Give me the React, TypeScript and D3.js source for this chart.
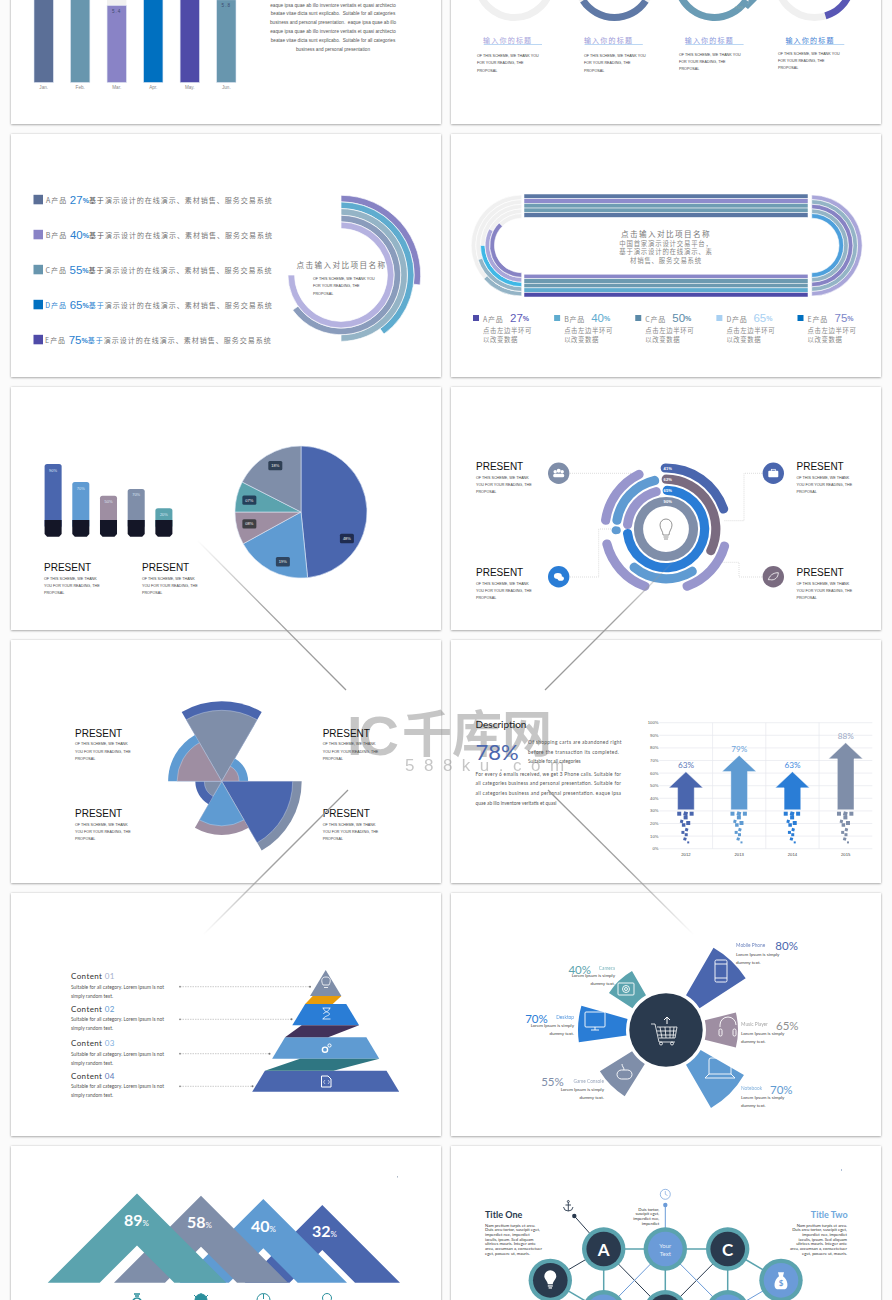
import React from 'react';
import * as d3 from 'd3';

// slide 1: monthly bars (cut off by the page top)
const months = ['Jan', 'Feb', 'Mar', 'Apr', 'May', 'Jun'];
const monthValues = [6.2, 6.0, 5.4, 6.6, 7.0, 5.8];
const monthColors = ['#5b6f97', '#6896ae', '#8983c6', '#0070c0', '#4f4ba8', '#6896ae'];
const monthNotes = ['', '', '5.4', '', '', '5.8'];
const paragraphLines = [
  'eaque ipsa quae ab illo inventore veritatis et quasi architecto',
  'beatae vitae dicta sunt explicabo.  Suitable for all categories',
  'business and personal presentation.  eaque ipsa quae ab illo',
  'eaque ipsa quae ab illo inventore veritatis et quasi architecto',
  'beatae vitae dicta sunt explicabo.  Suitable for all categories',
  'business and personal presentation',
];

// slide 2: cut off donuts, arc spans in percent of the ring
const donutSpans = [[0, 0], [34.4, 65.8], [34, 69], [30, 45.3]];
const donutColors = ['#f0f0f0', '#5f79a6', '#6a9cb5', '#5957b5'];
const donutTitleColors = ['#a6a3dc', '#9c9ad8', '#8c98dc', '#3f7fd4'];

// slide 3 and 4: product shares
const products = ['A', 'B', 'C', 'D', 'E'];
const productShares = [27, 40, 55, 65, 75];
const ringShares = [27, 40, 50, 65, 75];
const productColors = ['#5b6f97', '#8983c6', '#6896ae', '#0070c0', '#4f4ba8'];
const ringColors = ['#8783c4', '#5faccf', '#94b4c6', '#8a9cbc', '#b5b2e0'];
const trackTopColors = ['#5b77a3', '#8f8ccc', '#6f9db3', '#6f9db3', '#5b77a3'];
const trackBottomColors = ['#8a87c8', '#6c9ab0', '#6c9ab0', '#5faccf', '#4f4ba8'];
const halfRightColors = ['#a9a6d9', '#94b4c6', '#8783c4', '#94b4c6', '#4ea0dc'];
const halfLeftColors = ['#94b4c6', '#94b4c6', '#3fb8e6', '#a9a6d9', '#8783c4'];
const compareShares = [27, 40, 50, 65, 75];
const compareColors = ['#4f4ba8', '#5faccf', '#5b8aa8', '#a8d0f2', '#0070c0'];
const compareValueColors = ['#5d5bb8', '#5faccf', '#5b8aa8', '#a8d0f2', '#7b86c8'];

// slide 5: small bars and pie
const palette = ['#4a66ae', '#5f9bd2', '#9e8ea2', '#5ba3ae', '#7f8ea9'];
const barValues = [90, 61, 39, 50, 19];
const barLabels = ['90%', '70%', '50%', '70%', '20%'];
const barColors = ['#4a66ae', '#5f9bd2', '#9e8ea2', '#7f8ea9', '#5ba3ae'];
const pieValues = [48.4, 18.6, 8, 7.5, 17.5];
const pieLabels = ['48%', '19%', '08%', '07%', '18%'];
const pieLabelAngles = [120, 200, 257, 283, 331];

// slide 6: rounded rings, spans in degrees
const hubArcs: [number, number, number, string][] = [
  [0, 0, 360, '#7f8ea9'],
  [1, 270, 352, '#9896cd'],
  [1, -5, 270, '#2a7dd6'],
  [2, -5, 121, '#7a6b80'],
  [2, 275, 352, '#5f9bd2'],
  [2, 264, 273, '#5f9bd2'],
  [2, 143, 225, '#5f9bd2'],
  [3, -5, 75, '#4a66ae'],
  [3, 274, 338, '#9896cd'],
  [3, 196, 260, '#9896cd'],
  [3, 102, 164, '#9896cd'],
];
const hubLabels = ['90%', '65%', '62%', '41%'];

// slide 7: polar wedges
const polarValues = [100, 33, 100, 67, 33, 67];
const polarOuter = ['#4a66ae', '#5f9bd2', '#7f8ea9', '#9e8ea2', '#4a66ae', '#5f9bd2'];
const polarInner = ['#7f8ea9', '#9e8ea2', '#4a66ae', '#5f9bd2', '#7f8ea9', '#9e8ea2'];

// slide 8: arrows
const years = ['2012', '2013', '2014', '2015'];
const arrowTips = [61, 74, 61, 84];
const arrowLabels = ['63%', '79%', '63%', '88%'];
const arrowColors = ['#4a66ae', '#5f9bd2', '#2a7dd6', '#7f8ea9'];
const arrowLabelColors = ['#5d78b8', '#6ea5da', '#3f8ade', '#9aa8c5'];
const percentTicks = [0, 10, 20, 30, 40, 50, 60, 70, 80, 90, 100];

// slide 9: pyramid
const pyramidEdges = [0, 26, 34, 55.3, 67.3, 88.7, 100.7, 121.7];
const pyramidColors = ['#7f8ea9', '#2a7dd6', '#5f9bd2', '#4a66ae'];
const pyramidLinks = ['#e89c0a', '#42325a', '#2f7682'];
const contentNumbers = ['01', '02', '03', '04'];
const contentNumberColors = ['#a4b0cc', '#5f9bd2', '#7fb0e0', '#5d78b8'];

// slide 10: wedges around the cart
const wedgeNames = ['Mobile Phone', 'Music Player', 'Notebook', 'Game Console', 'Desktop', 'Camera'];
const wedgeShares = ['80%', '65%', '70%', '55%', '70%', '40%'];
const wedgeStarts = [30, 76, 120, 212, 262, 303];
const wedgeEnds = [57, 104, 150, 238, 286, 330];
const wedgeReach = [95, 72, 90, 78, 88, 68];
const wedgeColors = ['#4a66ae', '#9e8ea2', '#5f9bd2', '#7f8ea9', '#2a7dd6', '#5ba3ae'];
const wedgeValueColors = ['#4a66ae', '#8f8f8f', '#5f9bd2', '#7f8ea9', '#2a7dd6', '#5ba3ae'];

// slide 11: overlapping chevrons
const peakLabels = ['32', '40', '58', '89'];
const peakHeights = [77.7, 83.7, 87, 89.3];
const peakWidths = [45, 49.3, 51, 52];
const peakColors = ['#4a66ae', '#5f9bd2', '#7f8ea9', '#5ba3ae'];

// slide 12: network
const netNodes: [number, number, string, string][] = [
  [1, 0, 'dark', 'A'],
  [2, 0, 'blue', ''],
  [3, 0, 'dark', 'C'],
  [0, 1, 'dark', ''],
  [4, 1, 'blue', ''],
  [1, 2, 'blue', ''],
  [2, 2, 'dark', ''],
  [3, 2, 'blue', ''],
];
const netLinks: [number, number, string][] = [
  [0, 1, 'teal'], [1, 2, 'teal'], [0, 5, 'teal'], [1, 6, 'teal'], [2, 7, 'teal'],
  [3, 5, 'teal'], [2, 4, 'teal'], [3, 0, 'dark'], [0, 6, 'dark'], [2, 6, 'dark'],
  [4, 7, 'blue'], [1, 5, 'blue'], [1, 7, 'blue'],
];
const titleOneLines = ['Nam pretium turpis et arcu.', 'Duis arcu tortor, suscipit eget,', 'imperdiet nec, imperdiet', 'iaculis, ipsum. Sed aliquam', 'ultrices mauris. Integer ante', 'arcu, accumsan a, consectetuer', 'eget, posuere ut, mauris.'];

const SCHEME_WIDE = ['OF THIS SCHEME, WE THANK YOU', 'FOR YOUR READING, THE', 'PROPOSAL'];
const SCHEME_NARROW = ['OF THIS SCHEME, WE THANK', 'YOU FOR YOUR READING, THE', 'PROPOSAL'];
const LOREM = 'Suitable for all category. Lorem ipsum is not';
const SANS = '"Liberation Sans", Arial, sans-serif';
const CJK = '"Noto Sans CJK SC", sans-serif';
const ROUND = 'Lato, sans-serif';
const DARK = '#2a3a4e';

const rad = (d: number) => (d * Math.PI) / 180;
const arcPath = (r0: number, r1: number, a0: number, a1: number, corner = 0) =>
  d3.arc().cornerRadius(corner)({ innerRadius: r0, outerRadius: r1, startAngle: rad(a0), endAngle: rad(a1) } as any) as string;
const poly = (pts: [number, number][]) => d3.line()(pts) + 'Z';

function Lines({ x, y, step, lines, size = 3.7, fill = '#444', anchor = 'start', family = SANS, spacing = 0 }: any) {
  return (
    <g fontSize={size} fill={fill} textAnchor={anchor} fontFamily={family} letterSpacing={spacing}>
      {lines.map((l: string, i: number) => (
        <text key={i} x={x} y={y + i * step} dominantBaseline="central" xmlSpace="preserve">{l}</text>
      ))}
    </g>
  );
}

const Present = ({ x, y, lines = SCHEME_NARROW, dy = 11 }: any) => (
  <g>
    <text x={x} y={y} fontSize={10} fontFamily={SANS} fill="#111" dominantBaseline="central">PRESENT</text>
    <Lines x={x} y={y + dy} step={7.2} lines={lines} />
  </g>
);

function TopSlides() {
  const y = d3.scaleLinear().domain([0, 5.4]).range([82.5, 5.5]);
  const x = d3.scaleBand().domain(months).range([25.6, 244.4]).paddingInner(0.47).paddingOuter(0.23);
  const donutX = d3.scalePoint().domain(['0', '1', '2', '3']).range([514.5, 814.5]);
  const donutY = -20;
  const textX = [477, 584, 679, 778];
  const textY = [56, 56, 54.5, 53.5];
  return (
    <g>
      {months.map((m, i) => (
        <g key={m}>
          <rect x={x(m)} y={y(8)} width={x.bandwidth()} height={y(0) - y(8)} fill="#f0f0f0" />
          <rect x={x(m)} y={y(monthValues[i])} width={x.bandwidth()} height={y(0) - y(monthValues[i])} fill={monthColors[i]} stroke="#dfe6f3" strokeWidth={0.6} />
          <text x={x(m)! + x.bandwidth() / 2} y={y(0) + 6} fontSize={4.6} fill="#888" textAnchor="middle" fontFamily={SANS}>{m}.</text>
          {monthNotes[i] && (
            <text x={x(m)! + x.bandwidth() / 2} y={y(monthValues[i]) + 7.5} fontSize={4.6} fill="#3d4a70" textAnchor="middle" fontFamily={SANS} letterSpacing={1}>{monthNotes[i]}</text>
          )}
        </g>
      ))}
      <Lines x={333} y={5} step={8.85} lines={paragraphLines} size={4.7} anchor="middle" fill="#555" />

      {donutSpans.map(([a, b], i) => {
        const cx = donutX(String(i))!;
        const titleX = [483.7, 584.5, 685.3, 786][i];
        return (
          <g key={i}>
            <g transform={`translate(${cx},${donutY})`}>
              <path d={arcPath(34, 41, 0, 360)} fill="#f0f0f0" />
              {b > a && <path d={arcPath(34, 41, a * 3.6, b * 3.6)} fill={donutColors[i]} />}
            </g>
            <text x={titleX + 24} y={40} fontSize={7} letterSpacing={1.2} fontFamily={CJK} fill={donutTitleColors[i]} textAnchor="middle" dominantBaseline="central">输入你的标题</text>
            <line x1={titleX} x2={titleX + 58.3} y1={44.5} y2={44.5} stroke="#9ec5ee" strokeWidth={0.7} />
            <Lines x={textX[i]} y={textY[i]} step={7.3} lines={SCHEME_WIDE} />
          </g>
        );
      })}
      <path d={poly([[741, 4], [748, 4], [749, -3], [757, 0], [748, 9]])} fill="#6a9cb5" />
      <text x={739} y={7} fontSize={4.2} fill="#8aa" textAnchor="middle" dominantBaseline="central" fontFamily={SANS}>75%</text>
    </g>
  );
}

function ProductSlide() {
  const rowY = d3.scalePoint().domain(products).range([199.5, 339.5]);
  const ring = d3.scaleBand().domain(products).range([79.7, 46.4]);
  const angle = d3.scaleLinear().domain([0, 100]).range([0, 360]);
  return (
    <g>
      {products.map((p, i) => {
        const ry = rowY(p)!;
        const headBlue = p === 'D' || p === 'E';
        return (
          <g key={p}>
            <rect x={33.5} y={ry - 4.7} width={9.5} height={9.5} fill={productColors[i]} />
            <text x={46 - i * 0.25} y={ry + 0.7} fontSize={7} letterSpacing={1} fontFamily={CJK} fill="#777" dominantBaseline="central">
              <tspan fill={p === 'D' ? '#2a7fd0' : '#777'}>{p}</tspan>
              <tspan fill={p === 'D' ? '#2a7fd0' : '#777'}>产品 </tspan>
              <tspan fontSize={11.5} fontFamily={SANS} letterSpacing={0} fill="#2a7fd0">{productShares[i]}</tspan>
              <tspan fontFamily={SANS} fontWeight="bold" fill="#2a7fd0" letterSpacing={0}>%</tspan>
              <tspan fill={headBlue ? '#2a7fd0' : '#555'}>基于</tspan>
              <tspan>演示设计的在线演示、素材销售、服务交易系统</tspan>
            </text>
            <g transform="translate(341,275)">
              <path d={arcPath(ring(p)!, ring(p)! + ring.bandwidth(), 0, angle(ringShares[i]))} fill={ringColors[i]} stroke="#fff" strokeWidth={0.7} />
            </g>
          </g>
        );
      })}
      <text x={341.5} y={264} fontSize={7.6} letterSpacing={1.4} fontFamily={CJK} fill="#777" textAnchor="middle" dominantBaseline="central">点击输入对比项目名称</text>
      <Lines x={313} y={279} step={7.3} lines={SCHEME_WIDE} />
    </g>
  );
}

function CompareSlide() {
  const ring = d3.scaleBand().domain(products).range([50.5, 27.3]);
  const rowTop = d3.scaleBand().domain(products).range([194, 217.4]);
  const rowBottom = d3.scaleBand().domain(products).range([274.2, 297]);
  const legendX = d3.scalePoint().domain(products).range([473, 797.5]);
  const cy = 245.5;
  return (
    <g>
      {products.map((p, i) => (
        <g key={p}>
          <rect x={524} y={rowTop(p)} width={284} height={rowTop.bandwidth()} fill={trackTopColors[i]} stroke="#fff" strokeWidth={0.5} />
          <rect x={524} y={rowBottom(p)} width={284} height={rowBottom.bandwidth()} fill={trackBottomColors[i]} stroke="#fff" strokeWidth={0.5} />
          <g transform={`translate(811.7,${cy})`}>
            <path d={arcPath(ring(p)!, ring(p)! + ring.bandwidth(), 0, 180)} fill={halfRightColors[i]} stroke="#fff" strokeWidth={0.6} />
          </g>
          <g transform={`translate(521.7,${cy})`}>
            <path d={arcPath(ring(p)!, ring(p)! + ring.bandwidth(), 180, 360)} fill="#f0f0f0" stroke="#fff" strokeWidth={0.6} />
            <path d={arcPath(ring(p)!, ring(p)! + ring.bandwidth(), 180, 180 + compareShares[i] * 1.8)} fill={halfLeftColors[i]} stroke="#fff" strokeWidth={0.6} />
          </g>
          <rect x={legendX(p)} y={315} width={6} height={6} fill={compareColors[i]} />
          <text x={legendX(p)! + 10} y={318.5} fontSize={7} fontFamily={CJK} fill="#888" letterSpacing={0.8} dominantBaseline="central">{p}产品</text>
          <text x={legendX(p)! + 37} y={318} fontSize={11.5} fontFamily={SANS} fill={compareValueColors[i]} dominantBaseline="central">
            {compareShares[i]}<tspan fontSize={7} fontWeight="bold">%</tspan>
          </text>
          <Lines x={legendX(p)! + 10} y={330.5} step={8.7} size={6.4} spacing={0.6} family={CJK} fill="#888" lines={['点击左边半环可', '以改变数据']} />
        </g>
      ))}
      <text x={666} y={233} fontSize={7.6} letterSpacing={1.4} fontFamily={CJK} fill="#777" textAnchor="middle" dominantBaseline="central">点击输入对比项目名称</text>
      <Lines x={666} y={243} step={8.6} size={6.4} spacing={0.8} family={CJK} fill="#888" anchor="middle" lines={['中国首家演示设计交易平台，', '基于演示设计的在线演示、素', '材销售、服务交易系统']} />
    </g>
  );
}

function BarPieSlide() {
  const x = d3.scaleBand().domain(barLabels.map((_, i) => String(i))).range([37.4, 179.6]).paddingInner(0.385).paddingOuter(0.26);
  const y = d3.scaleLinear().domain([0, 90]).range([520, 464]);
  const cx = 301, cy = 512, r = 66;
  const arcs = d3.pie<number>().sort(null)(pieValues);
  return (
    <g>
      {barValues.map((v, i) => {
        const k = String(i);
        return (
          <g key={k}>
            <rect x={x(k)} y={y(v)} width={x.bandwidth()} height={y(0) - y(v) + 8} rx={2.5} fill={barColors[i]} />
            <path d={poly([[x(k)!, 520], [x(k)! + x.bandwidth(), 520], [x(k)! + x.bandwidth(), 534], [x(k)! + x.bandwidth() - 2.5, 536.7], [x(k)! + 2.5, 536.7], [x(k)!, 534]])} fill="#141627" />
            <text x={x(k)! + x.bandwidth() / 2} y={y(v) + 6} fontSize={4} fill="#dce6f5" textAnchor="middle" dominantBaseline="central" fontFamily={SANS}>{barLabels[i]}</text>
          </g>
        );
      })}
      <Present x={44} y={567} dy={11.8} />
      <Present x={142} y={567} dy={11.8} />
      <g transform={`translate(${cx},${cy})`}>
        {arcs.map((a, i) => (
          <path key={i} d={d3.arc()({ ...a, innerRadius: 0, outerRadius: r } as any) as string} fill={palette[i]} stroke="#dbe6f5" strokeWidth={0.6} />
        ))}
        {pieLabels.map((l, i) => {
          const px = Math.sin(rad(pieLabelAngles[i])) * 53;
          const py = -Math.cos(rad(pieLabelAngles[i])) * 53;
          return (
            <g key={l} transform={`translate(${px},${py})`}>
              <rect x={-7} y={-4.7} width={14} height={9.4} rx={1.5} fill={['#1f2c50', '#2f4560', '#3f3f44', '#24405a', '#2f4055'][i]} />
              <text fontSize={4} fill="#f2f2f2" textAnchor="middle" dominantBaseline="central" fontFamily={SANS}>{l}</text>
            </g>
          );
        })}
      </g>
    </g>
  );
}

function HubSlide() {
  const r = d3.scalePoint().domain(['0', '1', '2', '3']).range([27.5, 61]);
  const cx = 666, cy = 529;
  const nodes: [number, number, string][] = [[558.7, 473.3, '#7f8ea9'], [558.7, 576.7, '#2a7dd6'], [773.3, 473.3, '#4a66ae'], [773.3, 576.7, '#7a6b80']];
  const leaders: [number, number][][] = [
    [[570, 473.3], [632, 473.3]],
    [[570, 577], [598.7, 577], [598.7, 529], [616, 529]],
    [[762, 473.3], [744, 473.3], [744, 520.7], [724, 520.7]],
    [[762, 577], [739, 577], [739, 562.3], [712.7, 562.3]],
  ];
  return (
    <g>
      {leaders.map((l, i) => (
        <path key={i} d={d3.line()(l)!} fill="none" stroke="#bbb" strokeWidth={0.5} strokeDasharray="1 1" />
      ))}
      <g transform={`translate(${cx},${cy})`}>
        {hubArcs.map(([lane, a0, a1, c], i) => {
          const rc = r(String(lane))!;
          const full = a1 - a0 >= 360;
          return <path key={i} d={arcPath(rc - 4.6, rc + 4.6, a0, a1, full ? 0 : 4.5)} fill={c} />;
        })}
        {hubLabels.map((l, i) => (
          <text key={l} x={1.7} y={-r(String(i))!} fontSize={4.1} fill="#fff" fontWeight="bold" textAnchor="middle" dominantBaseline="central" fontFamily={SANS}>{l}</text>
        ))}
        <g fill="none" stroke="#666" strokeWidth={0.7}>
          <path d="M-3,6 C-3,2 -6,0 -6,-4 A6,6 0 1 1 6,-4 C6,0 3,2 3,6 Z" />
          <path d="M-2.5,8 H2.5 M-2,10 H2" />
        </g>
      </g>
      {nodes.map(([x, y, c], i) => (
        <g key={i} transform={`translate(${x},${y})`}>
          <circle r={10.7} fill={c} />
          {i === 0 && <g fill="#fff"><circle cx={-3.5} cy={-1.5} r={1.7} /><circle cx={3.5} cy={-1.5} r={1.7} /><circle cy={-2.5} r={2} /><rect x={-5.5} y={0.5} width={11} height={3.5} rx={1.5} /></g>}
          {i === 1 && <g fill="#fff"><ellipse cx={-0.8} cy={-0.8} rx={4} ry={3} /><ellipse cx={2} cy={1.8} rx={3.2} ry={2.3} /></g>}
          {i === 2 && <g fill="#fff"><rect x={-5} y={-2.5} width={10} height={6.5} rx={1} /><rect x={-2} y={-4} width={4} height={2} fill="none" stroke="#fff" strokeWidth={0.7} /></g>}
          {i === 3 && <path d="M-5,3 C-3,-3 2,-4 5,-4 C5,1 1,4 -3,3 Z" fill="none" stroke="#fff" strokeWidth={0.8} />}
        </g>
      ))}
      <Present x={476} y={466.5} dy={11.5} />
      <Present x={476} y={572} dy={11.5} />
      <Present x={796.5} y={466.5} dy={11.5} />
      <Present x={796.5} y={572} dy={11.5} />
    </g>
  );
}

function PolarSlide() {
  const r = d3.scaleLinear().domain([0, 100]).range([0, 80]);
  return (
    <g>
      <g transform="translate(221.7,781.3)">
        {polarValues.map((v, i) => (
          <g key={i}>
            <path d={arcPath(0, r(v), -30 + 60 * i, 30 + 60 * i)} fill={polarOuter[i]} />
            <path d={arcPath(0, r(v) - 9, -30 + 60 * i, 30 + 60 * i)} fill={polarInner[i]} stroke="#d5dff0" strokeWidth={0.4} />
          </g>
        ))}
      </g>
      <Present x={75} y={733.3} />
      <Present x={322.7} y={733.3} />
      <Present x={75} y={813.7} />
      <Present x={322.7} y={813.7} />
    </g>
  );
}

function ArrowSlide() {
  const y = d3.scaleLinear().domain([0, 100]).range([848.7, 722.7]);
  const x = d3.scaleBand().domain(years).range([659.3, 872.3]);
  const bits: [number, number, number][] = [[-6.7, 4, 4], [-0.3, 4, 4], [5.7, 4, 4], [-0.3, 7.7, 4], [-4.3, 11.7, 3], [2.3, 13.3, 4], [-2.3, 15.3, 3.5], [0.7, 20, 3], [-3, 22.7, 3], [0.3, 25, 3], [-1, 29.3, 3], [2.3, 32.7, 2]];
  const stemBottom = 809.7;
  const wrapped = ['Of shopping carts are abandoned right', 'before the transaction its completed.'];
  const body = ['For every 6 emails received, we get 3 Phone calls.  Suitable for', 'all categories business and personal presentation.  Suitable for', 'all categories business and personal presentation.  eaque ipsa'];
  return (
    <g>
      <text x={475.5} y={723.7} fontSize={10} fontFamily={ROUND} fill="#222" dominantBaseline="central">Description</text>
      <text x={475.5} y={759.5} fontSize={22} fontFamily={ROUND} fill="#4a66ae">78%</text>
      {wrapped.map((t, i) => (
        <text key={t} x={528} y={742 + i * 9.5} fontSize={4.8} fontFamily={ROUND} fill="#555" textLength={i === 0 ? 93.5 : 91} dominantBaseline="central">{t}</text>
      ))}
      <text x={528} y={761} fontSize={4.8} fontFamily={ROUND} fill="#555" dominantBaseline="central">Suitable for all categories</text>
      {body.map((t, i) => (
        <text key={t} x={475.5} y={773.7 + i * 9.6} fontSize={4.8} fontFamily={ROUND} fill="#555" textLength={145.5} dominantBaseline="central">{t}</text>
      ))}
      <text x={475.5} y={802.7} fontSize={4.8} fontFamily={ROUND} fill="#555" dominantBaseline="central">quae ab illo inventore veritatis et quasi</text>

      {percentTicks.map(t => (
        <g key={t}>
          <line x1={659.3} x2={872.3} y1={y(t)} y2={y(t)} stroke="#e6e8ee" strokeWidth={0.7} />
          <text x={658.5} y={y(t)} fontSize={4.2} fill="#555" textAnchor="end" dominantBaseline="central" fontFamily={SANS}>{t}%</text>
        </g>
      ))}
      {years.slice(1).map(yr => (
        <line key={yr} x1={x(yr)} x2={x(yr)} y1={y(100)} y2={y(0)} stroke="#e6e8ee" strokeWidth={0.7} />
      ))}
      {years.map((yr, i) => {
        const cx = x(yr)! + x.bandwidth() / 2;
        const tip = y(arrowTips[i]);
        return (
          <g key={yr}>
            <path
              d={poly([[cx, tip], [cx + 17, tip + 16], [cx + 8.3, tip + 16], [cx + 8.3, stemBottom], [cx - 8.3, stemBottom], [cx - 8.3, tip + 16], [cx - 17, tip + 16]])}
              fill={arrowColors[i]} stroke="#fff" strokeWidth={0.4}
            />
            {bits.map(([dx, dy, s], j) => (
              <rect key={j} x={cx + dx - s / 2} y={stemBottom + dy - s / 2} width={s} height={s} fill={arrowColors[i]} transform={`rotate(${j % 3 === 1 ? 15 : 0},${cx + dx},${stemBottom + dy})`} />
            ))}
            <text x={cx} y={tip - 6.5} fontSize={8.2} fontFamily={ROUND} fill={arrowLabelColors[i]} textAnchor="middle" dominantBaseline="central">{arrowLabels[i]}</text>
            <text x={cx} y={854} fontSize={4.2} fill="#444" textAnchor="middle" dominantBaseline="central" fontFamily={SANS}>{yr}</text>
          </g>
        );
      })}
    </g>
  );
}

function PyramidSlide() {
  const half = d3.scaleLinear().domain([0, 121.7]).range([0, 73.5]);
  const cx = 325.7, top = 970;
  const band = (a: number, b: number): [number, number][] => [[cx - half(a), top + a], [cx + half(a), top + a], [cx + half(b), top + b], [cx - half(b), top + b]];
  const e = pyramidEdges;
  const links: [number, number, number][] = [
    [-13, 16.3, 7],
    [-24, 24.8, 2.5],
    [-25.7, 54.7, 7.7],
  ];
  const targets = [310, 291.5, 269.5, 252.5];
  const rowY = [986.7, 1019.3, 1053.7, 1086.3];
  return (
    <g>
      {pyramidColors.map((c, i) => (
        <path key={c} d={poly(band(e[i === 0 ? 0 : i * 2], e[i * 2 + 1]))} fill={c} />
      ))}
      {links.map(([tl, , bl], i) => {
        const a = e[i * 2 + 1], b = e[i * 2 + 2];
        return <path key={i} d={poly([[cx + tl, top + a], [cx + half(a), top + a], [cx + bl, top + b], [cx - half(b), top + b]])} fill={pyramidLinks[i]} />;
      })}
      <g fill="none" stroke="#fff" strokeWidth={0.8}>
        <path d="M323,985 C321,981 321,977 326,977 C331,977 331,981 329,985 Z M324,987.5 H328" />
        <path d="M322.5,1008 H330.5 M322.5,1019 H330.5 M323.5,1008 C323.5,1012 329.5,1012 329.5,1014 C329.5,1016 323.5,1016 323.5,1019 M329.5,1008 C329.5,1012 323.5,1012 323.5,1014" />
        <circle cx={325} cy={1049.7} r={2.6} strokeWidth={1.4} />
        <circle cx={329.5} cy={1045.5} r={1.6} strokeWidth={1} />
        <path d="M321.5,1076 H328 L331,1079 V1087 H321.5 Z" strokeWidth={1} />
        <path d="M325,1080 L323.5,1082 L325,1084 M328,1080 L329.5,1082 L328,1084" strokeWidth={0.6} />
      </g>
      {contentNumbers.map((n, i) => (
        <g key={n}>
          <text x={71} y={[976, 1008.7, 1042.7, 1075.7][i]} fontSize={8} fontFamily={ROUND} letterSpacing={0.4} fill="#333" dominantBaseline="central">
            Content <tspan fill={contentNumberColors[i]}>{n}</tspan>
          </text>
          <Lines x={71} y={rowY[i]} step={8.8} size={4.9} family={ROUND} fill="#555" lines={[LOREM, 'simply random text.']} />
          <line x1={180} x2={targets[i]} y1={rowY[i]} y2={rowY[i]} stroke="#999" strokeWidth={0.5} strokeDasharray="1.5 1" />
          <circle cx={180} cy={rowY[i]} r={0.9} fill="#888" />
          <circle cx={targets[i]} cy={rowY[i]} r={1} fill="#777" />
        </g>
      ))}
    </g>
  );
}

function CartSlide() {
  const anchors = [
    { x: 736, nameY: 945, pctX: 775.3, pctY: 950, textY: 954.3, end: false },
    { x: 741, nameY: 1024, pctX: 776, pctY: 1030, textY: 1033, end: false },
    { x: 741, nameY: 1088, pctX: 770, pctY: 1094, textY: 1097, end: false },
    { x: 604, nameY: 1081, pctX: 563.7, pctY: 1086, textY: 1089, end: true },
    { x: 574, nameY: 1017, pctX: 547.7, pctY: 1023, textY: 1025.5, end: true },
    { x: 615, nameY: 968, pctX: 591, pctY: 974, textY: 975, end: true },
  ];
  const cx = 666, cy = 1030;
  return (
    <g>
      <g transform={`translate(${cx},${cy})`}>
        {wedgeNames.map((n, i) => (
          <path key={n} d={arcPath(40, wedgeReach[i], wedgeStarts[i], wedgeEnds[i])} fill={wedgeColors[i]} />
        ))}
        <circle r={36.7} fill={DARK} />
        <g fill="none" stroke="#fff" strokeWidth={0.8}>
          <path d="M-15,-6 H-11 L-7,12 H9 M-9,-3 H11 L9,8 H-7 M-6,-3 L-4,8 M-1,-3 L0,8 M4,-3 L4,8 M8,-3 L7,8 M-9,1 H10 M-8,5 H9" />
          <circle cx={-5} cy={13.5} r={1.5} />
          <circle cx={6} cy={13.5} r={1.5} />
          <path d="M1,-6 V-13 M-2,-10 L1,-13 L4,-10" strokeWidth={1} />
        </g>
        <g fill="none" stroke="#fff" strokeWidth={0.9}>
          <rect x={49} y={-70} width={12} height={22} rx={1.5} />
          <path d="M49,-66 H61 M49,-52 H61" />
          <path d="M55,-5 V-3 M55,-5 A8,8 0 0 1 71,-5" transform="translate(-1,0)" />
          <rect x={53} y={-1} width={3} height={7} rx={1.4} />
          <rect x={67} y={-1} width={3} height={7} rx={1.4} />
          <path d="M43,44 V30 Q43,28 45,28 H63 Q65,28 65,30 V44 M39,48 H69 L65,44 H43 Z" />
          <rect x={-49} y={40} width={15} height={9} rx={4.5} />
          <path d="M-42,40 C-42,37 -44,37 -44,34" />
          <rect x={-81} y={-18} width={20} height={15} rx={1} />
          <path d="M-75,0 H-67 M-71,-3 V0" />
          <rect x={-48} y={-47} width={16} height={12} rx={1} />
          <circle cx={-40} cy={-41} r={3.5} />
          <circle cx={-40} cy={-41} r={1.5} />
        </g>
      </g>
      {wedgeNames.map((n, i) => {
        const a = anchors[i];
        const anchor = a.end ? 'end' : 'start';
        return (
          <g key={n} fontFamily={ROUND} textAnchor={anchor}>
            <text x={a.x} y={a.nameY} fontSize={4.8} fill={wedgeValueColors[i]} opacity={0.8} dominantBaseline="central">{n}</text>
            <text x={a.pctX} y={a.pctY} fontSize={11.5} fill={wedgeValueColors[i]}>{wedgeShares[i]}</text>
            <Lines x={a.x} y={a.textY} step={8} size={4.5} fill="#444" family={ROUND} anchor={anchor} lines={['Lorem Ipsum is simply', 'dummy text.']} />
          </g>
        );
      })}
    </g>
  );
}

function PeakSlide() {
  const baseY = 1282.7;
  const peakX = [322.3, 263.3, 201, 137];
  const labelX = [312, 251, 187, 124];
  const labelY = [1237.3, 1231.7, 1228.3, 1226];
  return (
    <g>
      {peakHeights.map((h, i) => {
        const px = peakX[i], w = peakWidths[i];
        return (
          <path key={i} fill={peakColors[i]} d={poly([[px - h, baseY], [px, baseY - h], [px + h, baseY], [px + h - w, baseY], [px, baseY - h + w], [px - h + w, baseY]])} />
        );
      })}
      {peakLabels.map((l, i) => (
        <text key={l} x={labelX[i]} y={labelY[i]} fontFamily={ROUND} fontWeight="bold" fontSize={16} fill="#fff">
          {l}<tspan fontSize={8} fontWeight="normal">%</tspan>
        </text>
      ))}
      <g fill="none" stroke="#2a8f9c" strokeWidth={1}>
        <path d="M134,1294 H140 M135,1296 H139 M133,1300 Q137,1296 141,1300" strokeWidth={1.6} />
        <path d="M195,1300 A6,6 0 0 1 207,1300 Z M194,1295 L196,1297 M208,1295 L206,1297 M201,1293 V1295" fill="#2a8f9c" />
        <circle cx={263.5} cy={1300} r={6.5} />
        <path d="M263.5,1294 V1299" />
        <circle cx={327} cy={1298} r={4.5} />
      </g>
      <rect x={397} y={1176} width={0.7} height={1.6} fill="#8a9cb0" />
    </g>
  );
}

function NetworkSlide() {
  const col = d3.scaleOrdinal<number, number>().domain([0, 1, 2, 3, 4]).range([550.3, 603.7, 665.3, 727.7, 781]);
  const row = d3.scalePoint<number>().domain([0, 1, 2]).range([1249, 1311.7]);
  const tones: any = { teal: '#5ba3ae', dark: DARK, blue: '#6b9bd8' };
  const A = netNodes[0], Y = netNodes[1];
  return (
    <g>
      {netLinks.map(([a, b, t], i) => (
        <line key={i} x1={col(netNodes[a][0])} y1={row(netNodes[a][1])} x2={col(netNodes[b][0])} y2={row(netNodes[b][1])} stroke={tones[t]} strokeWidth={t === 'teal' ? 1.5 : 1} />
      ))}
      <line x1={col(A[0])} y1={row(A[1])} x2={574.3} y2={1216} stroke={DARK} strokeWidth={1} />
      <circle cx={574.3} cy={1216} r={2.2} fill={DARK} />
      <line x1={col(Y[0])} y1={row(Y[1])} x2={665.3} y2={1205} stroke="#6b9bd8" strokeWidth={1} />
      <circle cx={665.3} cy={1205} r={2.2} fill="#6b9bd8" />
      <circle cx={665.3} cy={1194.3} r={5} fill="none" stroke="#6b9bd8" strokeWidth={0.7} />
      <path d="M665.3,1191 V1194.3 L667.5,1195.5" fill="none" stroke="#6b9bd8" strokeWidth={0.6} />
      <g fill="none" stroke={DARK} strokeWidth={0.9}>
        <circle cx={568.3} cy={1201.5} r={1} />
        <path d="M568.3,1202.5 V1211 M565.5,1205 H571 M563.5,1207 Q564,1211 568.3,1211 Q572.6,1211 573,1207" />
      </g>
      {netNodes.map(([c, r, tone, label], i) => (
        <g key={i} transform={`translate(${col(c)},${row(r)})`}>
          <circle r={21.7} fill="#5ba3ae" />
          <circle r={17.3} fill={tone === 'dark' ? DARK : '#6b9bd8'} />
          {label && <text fontSize={17} fontWeight="bold" fontFamily={ROUND} fill="#fff" textAnchor="middle" dominantBaseline="central">{label}</text>}
        </g>
      ))}
      <text x={665.3} y={1245.7} fontSize={6} fontFamily={ROUND} fill="#e8eef8" textAnchor="middle" dominantBaseline="central">Your</text>
      <text x={665.3} y={1253} fontSize={6} fontFamily={ROUND} fill="#e8eef8" textAnchor="middle" dominantBaseline="central">Text</text>
      <g transform={`translate(${col(0)},${row(1)})`} fill="#fff">
        <path d="M-2.5,4 C-2.5,1 -6,-1 -6,-4 A6,6 0 1 1 6,-4 C6,-1 2.5,1 2.5,4 Z" />
        <rect x={-2.5} y={5} width={5} height={1.2} />
        <rect x={-1.7} y={7} width={3.4} height={1.2} />
      </g>
      <g transform={`translate(${col(4)},${row(1)})`} fill="#fff">
        <path d="M-3,-8 H3 L2,-4 C7,-1 8,8 4,9 H-4 C-8,8 -7,-1 -2,-4 Z" />
        <text y={3} fontSize={8} fontWeight="bold" fill="#6b9bd8" textAnchor="middle" dominantBaseline="central" fontFamily={ROUND}>$</text>
      </g>

      <text x={485} y={1214} fontSize={9} fontWeight="bold" fontFamily={ROUND} fill={DARK} dominantBaseline="central">Title One</text>
      <Lines x={485} y={1225} step={4.7} size={4.2} fill="#333" family={ROUND} lines={titleOneLines} />
      <text x={847.7} y={1214} fontSize={9} fontWeight="bold" fontFamily={ROUND} fill="#6fa8dc" textAnchor="end" dominantBaseline="central">Title Two</text>
      <Lines x={847} y={1225} step={4.7} size={4.2} fill="#333" family={ROUND} anchor="end" lines={titleOneLines} />
      <Lines x={659.3} y={1209} step={4.7} size={4.2} fill="#333" family={ROUND} anchor="end" lines={['Duis tortor,', 'suscipit eget,', 'imperdiet nec,', 'imperdiet']} />
      <rect x={841} y={1169.3} width={1} height={1.4} fill="#8fa6c8" />
    </g>
  );
}

export default function App() {
  const rows: [number, number][] = [[-20, 144], [134, 243], [387, 243], [640, 243], [893, 243], [1146, 200]];
  const diagonals = [
    { id: 'd1', a: [197, 540], b: [346, 690] },
    { id: 'd2', a: [680, 555], b: [545, 690] },
    { id: 'd3', a: [203, 935], b: [348, 790] },
    { id: 'd4', a: [694, 935], b: [548, 790] },
  ];
  return (
    <svg width={892} height={1300} viewBox="0 0 892 1300" style={{ position: 'absolute', left: 0, top: 0, background: '#fbfbfb' }}>
      <defs>
        <filter id="shade" x="-3%" y="-3%" width="106%" height="106%">
          <feDropShadow dx={0} dy={0.6} stdDeviation={1.1} floodColor="#777" floodOpacity={0.8} />
        </filter>
        {diagonals.map(d => (
          <linearGradient key={d.id} id={d.id} gradientUnits="userSpaceOnUse" x1={d.a[0]} y1={d.a[1]} x2={d.b[0]} y2={d.b[1]}>
            <stop offset="0%" stopColor="#999" stopOpacity={0} />
            <stop offset="45%" stopColor="#999" stopOpacity={0.9} />
            <stop offset="100%" stopColor="#999" stopOpacity={1} />
          </linearGradient>
        ))}
        <clipPath id="page"><rect x={0} y={0} width={892} height={1300} /></clipPath>
      </defs>
      <g clipPath="url(#page)">
        {rows.map(([y, h]) => (
          <g key={y}>
            <rect x={11} y={y} width={430} height={h} fill="#fff" filter="url(#shade)" />
            <rect x={451} y={y} width={430} height={h} fill="#fff" filter="url(#shade)" />
          </g>
        ))}
        {/* watermark sits under the slide text */}
        <g fill="#8f8f8f" opacity={0.5}>
          <text x={347} y={755} fontSize={56} fontWeight="bold" fontFamily={SANS} textLength={52}>IC</text>
          <text x={402} y={752} fontSize={50} fontWeight="bold" fontFamily={CJK}>千库网</text>
          <text x={405} y={771} fontSize={17} fontFamily={SANS} letterSpacing={9.5}>588ku.com</text>
        </g>
        <TopSlides />
        <ProductSlide />
        <CompareSlide />
        <BarPieSlide />
        <HubSlide />
        <PolarSlide />
        <ArrowSlide />
        <PyramidSlide />
        <CartSlide />
        <PeakSlide />
        <NetworkSlide />
        {diagonals.map(d => (
          <line key={d.id} x1={d.a[0]} y1={d.a[1]} x2={d.b[0]} y2={d.b[1]} stroke={`url(#${d.id})`} strokeWidth={1.3} />
        ))}
      </g>
    </svg>
  );
}
